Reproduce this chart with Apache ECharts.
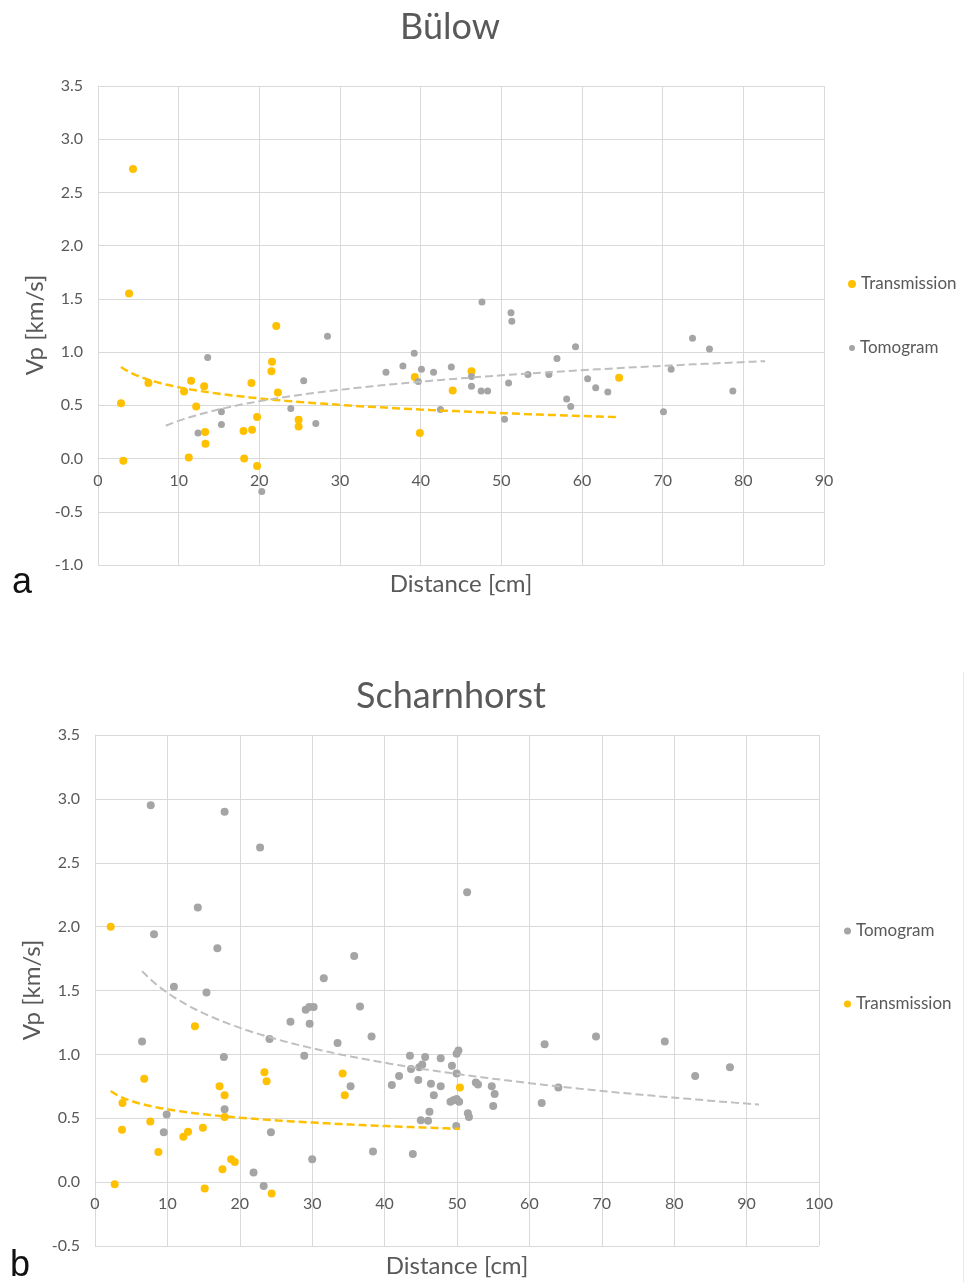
<!DOCTYPE html>
<html><head><meta charset="utf-8">
<script src="https://cdn.jsdelivr.net/npm/echarts@6/dist/echarts.min.js"></script>
<style>html,body{margin:0;padding:0;background:#fff}#c{width:973px;height:1282px}</style>
</head><body><div id="c"></div>
<script>
// ---------- Data ----------
// Panel a: Bülow
const bulowTransDist = [4.34,3.85,2.85,3.14,6.25,10.67,11.54,12.17,13.16,13.28,13.32,11.25,18.04,18.12,19.02,19.1,19.72,19.72,22.1,21.57,21.5,22.3,24.87,24.87,39.27,39.9,43.97,46.3,64.6];
const bulowTransVp   = [2.72,1.55,0.52,-0.02,0.71,0.63,0.73,0.49,0.68,0.25,0.14,0.01,0.26,0.00,0.71,0.27,0.39,-0.07,1.245,0.91,0.82,0.62,0.365,0.30,0.766,0.24,0.64,0.82,0.76];
const bulowTomoDist  = [13.6,12.4,15.3,15.3,23.9,25.5,27.0,28.45,20.3,35.7,37.8,39.2,40.1,39.7,41.6,43.8,42.45,46.3,46.3,47.6,47.5,48.3,50.9,50.4,51.2,51.3,53.3,55.9,56.9,58.1,58.6,59.2,60.7,61.7,63.2,70.1,71.05,73.7,75.8,78.7];
const bulowTomoVp    = [0.95,0.24,0.44,0.32,0.47,0.73,0.33,1.15,-0.31,0.81,0.87,0.99,0.84,0.725,0.81,0.86,0.46,0.77,0.68,1.47,0.635,0.635,0.71,0.37,1.37,1.29,0.79,0.79,0.94,0.56,0.49,1.05,0.75,0.665,0.625,0.44,0.84,1.13,1.03,0.635];
// Panel b: Scharnhorst
const scharnTomoDist = [7.7,17.9,22.8,14.2,8.15,16.9,10.9,15.4,6.5,17.8,17.9,9.9,9.5,24.3,24.1,27.0,21.9,23.3,51.4,35.8,31.6,29.1,29.6,30.2,36.6,29.65,38.2,33.5,28.9,35.3,30.0,38.4,43.9,43.5,45.6,47.75,49.95,50.2,43.65,44.8,45.2,49.3,49.95,42.0,41.0,44.65,46.4,47.75,52.6,52.9,54.8,55.2,46.8,49.1,49.5,49.95,50.3,55.0,46.2,51.5,51.65,45.0,46.0,49.9,62.1,69.2,78.7,82.9,87.7,64.0,61.7];
const scharnTomoVp   = [2.95,2.90,2.62,2.15,1.94,1.83,1.53,1.485,1.10,0.98,0.57,0.53,0.39,0.39,1.12,1.255,0.076,-0.03,2.27,1.77,1.595,1.35,1.37,1.37,1.375,1.24,1.14,1.09,0.99,0.75,0.18,0.24,0.22,0.99,0.98,0.97,1.005,1.03,0.885,0.90,0.92,0.91,0.85,0.83,0.76,0.80,0.77,0.75,0.78,0.765,0.75,0.69,0.68,0.63,0.64,0.65,0.63,0.595,0.55,0.54,0.51,0.485,0.48,0.44,1.08,1.14,1.10,0.83,0.90,0.74,0.62];
const scharnTransDist = [2.17,13.8,6.8,3.8,3.73,7.64,8.75,2.72,12.2,12.85,14.9,15.15,17.2,17.9,17.9,17.6,18.8,19.3,23.4,23.7,24.4,34.2,34.5,50.4];
const scharnTransVp   = [2.00,1.22,0.81,0.62,0.41,0.475,0.235,-0.016,0.355,0.395,0.425,-0.05,0.75,0.68,0.51,0.10,0.18,0.157,0.86,0.79,-0.09,0.85,0.68,0.74];
// Trendline forecast (backward, forward) in cm, as shown in the reference
const bulowTomoForecast = [4, 4];
const scharnTomoForecast = [0, 4];
// Axis ticks [min, max, interval]
const yTicksA = [-1.0, 3.5, 0.5];
const yTicksB = [-0.5, 3.5, 0.5];
const xTicksA = [0, 90, 10];
const xTicksB = [0, 100, 10];

// ---------- Helpers ----------
const pairs = (xs, ys) => xs.map((x, i) => [x, ys[i]]);
function logFit(xs, ys) {
  const L = xs.map(Math.log), n = xs.length;
  const mL = L.reduce((a, b) => a + b, 0) / n, mY = ys.reduce((a, b) => a + b, 0) / n;
  let sxy = 0, sxx = 0;
  for (let i = 0; i < n; i++) { sxy += (L[i] - mL) * (ys[i] - mY); sxx += (L[i] - mL) ** 2; }
  const b = sxy / sxx; return { a: mY - b * mL, b };
}
function trend(xs, ys, ext) {
  ext = ext || [0, 0];
  const f = logFit(xs, ys);
  const x0 = Math.min(...xs) - ext[0], x1 = Math.max(...xs) + ext[1];
  const pts = [];
  for (let i = 0; i <= 100; i++) { const x = x0 + (x1 - x0) * i / 100; pts.push([x, f.a + f.b * Math.log(x)]); }
  return pts;
}

const FONT = 'Lato';
const TXT = '#595959', GRIDC = '#D9D9D9', ORANGE = '#FFC000', GRAY = '#A5A5A5';
const GRID_A = { left: 98, top: 86, width: 726, height: 479 };
const GRID_B = { left: 95, top: 735, width: 724, height: 511 };

// x axis placed at Vp = 0 (as in the reference): shift from the grid bottom
function zeroOffset(yt, g) { return -((0 - yt[0]) / (yt[1] - yt[0])) * g.height; }

function xAx(gi, t, yt, g) {
  return { type: 'value', gridIndex: gi, min: t[0], max: t[1], interval: t[2],
    offset: zeroOffset(yt, g),
    axisLine: { show: true, onZero: false, lineStyle: { color: GRIDC, width: 1 } },
    axisTick: { show: false },
    axisLabel: { color: TXT, fontSize: 16, fontFamily: FONT, margin: 14 },
    splitLine: { show: true, lineStyle: { color: GRIDC, width: 1 } } };
}
function yAx(gi, t) {
  return { type: 'value', gridIndex: gi, min: t[0], max: t[1], interval: t[2],
    axisLine: { show: true, lineStyle: { color: GRIDC, width: 1 } },
    axisTick: { show: false },
    axisLabel: { color: TXT, fontSize: 16, fontFamily: FONT, margin: 15, formatter: v => v.toFixed(1) },
    splitLine: { show: true, lineStyle: { color: GRIDC, width: 1 } } };
}
function sc(name, gi, xs, ys, color, size, z) {
  return { name, type: 'scatter', xAxisIndex: gi, yAxisIndex: gi, data: pairs(xs, ys),
    symbol: 'circle', symbolSize: size, itemStyle: { color, opacity: 1 }, z, silent: true };
}
function tl(gi, xs, ys, color, width, ext) {
  return { type: 'line', xAxisIndex: gi, yAxisIndex: gi, data: trend(xs, ys, ext), showSymbol: false,
    smooth: false, lineStyle: { color, width, type: [8, 4] }, z: 5, silent: true };
}
function txt(text, x, y, size, opts) {
  opts = opts || {};
  return { type: 'text', x, y, rotation: opts.rot || 0, z: 10,
    style: { text, fill: opts.fill || TXT, font: (size + 'px ') + (opts.font || FONT), align: 'center', verticalAlign: 'middle' } };
}
function lg(name, left, top, size, color) {
  return { data: [name], orient: 'vertical', left, top, padding: 0, itemWidth: size, itemHeight: size, itemGap: 6,
    icon: 'circle', textStyle: { color: TXT, fontSize: 17, fontFamily: FONT, lineHeight: 20 }, selectedMode: false,
    itemStyle: { color } };
}

const chart = echarts.init(document.getElementById('c'), null, { renderer: 'canvas' });
chart.setOption({
  animation: false,
  backgroundColor: '#fff',
  grid: [
    Object.assign({ containLabel: false }, GRID_A),
    Object.assign({ containLabel: false }, GRID_B)
  ],
  xAxis: [xAx(0, xTicksA, yTicksA, GRID_A), xAx(1, xTicksB, yTicksB, GRID_B)],
  yAxis: [yAx(0, yTicksA), yAx(1, yTicksB)],
  legend: [
    lg('Transmission', 848, 274, 8, ORANGE),
    lg('Tomogram', 849, 338, 6, GRAY),
    lg('Tomogram', 844, 921, 7, GRAY),
    lg('Transmission', 844, 994, 7, ORANGE)
  ],
  series: [
    sc('Transmission', 0, bulowTransDist, bulowTransVp, ORANGE, 8, 2),
    sc('Tomogram', 0, bulowTomoDist, bulowTomoVp, GRAY, 7, 3),
    tl(0, bulowTransDist, bulowTransVp, ORANGE, 2.5),
    tl(0, bulowTomoDist, bulowTomoVp, '#BFBFBF', 2, bulowTomoForecast),
    sc('Tomogram', 1, scharnTomoDist, scharnTomoVp, GRAY, 8, 2),
    sc('Transmission', 1, scharnTransDist, scharnTransVp, ORANGE, 8, 3),
    tl(1, scharnTransDist, scharnTransVp, ORANGE, 2.5),
    tl(1, scharnTomoDist, scharnTomoVp, '#BFBFBF', 2, scharnTomoForecast)
  ],
  graphic: [
    txt('Bülow', 450, 27, 36),
    txt('Scharnhorst', 451, 696, 36),
    txt('Distance [cm]', 461, 584, 24),
    txt('Distance [cm]', 457, 1266, 24),
    txt('Vp [km/s]', 35, 325, 24, { rot: Math.PI / 2 }),
    txt('Vp [km/s]', 32, 990, 24, { rot: Math.PI / 2 }),
    txt('a', 22, 583, 36, { fill: '#111', font: 'Liberation Sans' }),
    txt('b', 20, 1266, 36, { fill: '#111', font: 'Liberation Sans' }),
    { type: 'line', shape: { x1: 963.5, y1: 672, x2: 963.5, y2: 1282 }, style: { stroke: '#E8E8E8', lineWidth: 1 }, z: 1 }
  ]
});
</script></body></html>
